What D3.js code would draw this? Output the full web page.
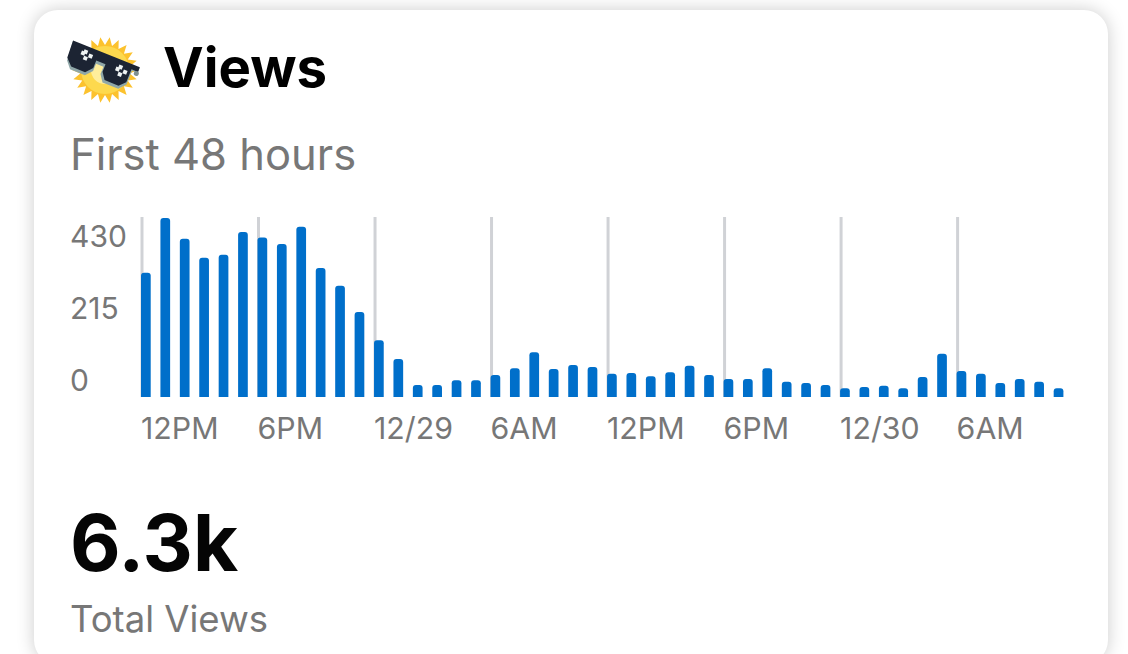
<!DOCTYPE html>
<html><head><meta charset="utf-8">
<script src="https://cdn.jsdelivr.net/npm/d3@7/dist/d3.min.js"></script>
<style>html,body{margin:0;padding:0;background:#fff;overflow:hidden}svg{display:block}text{font-family:Inter,"Noto Sans",sans-serif}</style>
</head><body><svg id="c" width="1128" height="654"></svg>
<script>
const views=[310,447,395,348,355,412,398,382,425,322,278,212,142,95,30,30,42,42,55,72,112,70,80,75,58,60,52,62,78,55,45,45,72,38,35,30,22,25,28,22,50,108,65,58,35,45,38,22];
const yTickLabels=[0,215,430];
const xTickLabels=["12PM","6PM","12/29","6AM","12PM","6PM","12/30","6AM"];
const titleText="Views",subtitleText="First 48 hours",totalText="6.3k",totalLabel="Total Views";

const svg=d3.select("#c");
const defs=svg.append("defs");
const f=defs.append("filter").attr("id","sh").attr("x","-5%").attr("y","-10%").attr("width","110%").attr("height","120%");
f.append("feGaussianBlur").attr("stdDeviation",9);
svg.append("rect").attr("x",34).attr("y",10).attr("width",1074).attr("height",654).attr("rx",24).attr("fill","#000").attr("opacity",0.2).attr("filter","url(#sh)");
svg.append("rect").attr("x",34).attr("y",10).attr("width",1074).attr("height",654).attr("rx",24).attr("fill","#fff");

// emoji
const e=svg.append("g").attr("transform","translate(105,70)");
const pts=[];for(let i=0;i<44;i++){const r=i%2?25:33,a=i/44*2*Math.PI;pts.push([r*Math.cos(a),r*Math.sin(a)]);}
e.append("polygon").attr("points",pts.join(" ")).attr("fill","#fcc22e");
e.append("circle").attr("r",24).attr("fill","#fdd94e");
e.append("circle").attr("r",14).attr("fill","#fff2b0").attr("opacity",.8);
const g=e.append("g").attr("transform","translate(-3,-5) rotate(22) translate(0,-3)");
g.append("path").attr("d","M-36,-8 L36,-8 L36,-3 L30,-3 L30,12 L24,19 L7,19 L2,12 L2,4 L-6,4 L-6,12 L-12,19 L-28,19 L-34,12 Z").attr("fill","#8fa7a8");
g.append("path").attr("d","M-36,-9 L36,-9 L36,-4 L29,-4 L29,10 L23,16 L8,16 L3,9 L3,1 L-7,1 L-7,9 L-13,16 L-28,16 L-35,9 Z").attr("fill","#1c2433");
g.append("circle").attr("cx",35).attr("cy",-2).attr("r",2.5).attr("fill","#7f9091");
[[-24,-3],[-20,1],[-16,-3],[-22,-5],[14,-1],[18,3],[22,-1],[16,-4]].forEach(p=>g.append("rect").attr("x",p[0]).attr("y",p[1]).attr("width",4).attr("height",4).attr("fill","#eef3f3"));

// header
svg.append("text").attr("x",163).attr("y",87).attr("font-size",54.5).attr("font-weight",700).attr("fill","#000").text(titleText);
svg.append("text").attr("x",70).attr("y",170).attr("font-size",43.5).attr("font-weight",400).attr("fill","#777").text(subtitleText);

// chart
const x=d3.scaleBand().domain(d3.range(views.length)).range([141,1063.4]).paddingInner(0.5).paddingOuter(0).align(0);
const y=d3.scaleLinear().domain([0,447]).range([397,218]);
const labelY=d3.scaleLinear().domain([0,430]).range([390,246]);
const gridIdx=xTickLabels.map((d,i)=>i*6);
const gridX=i=>x(i)+1;
svg.append("g").selectAll("line").data(gridIdx).join("line")
 .attr("x1",gridX).attr("x2",gridX).attr("y1",217).attr("y2",397)
 .attr("stroke","#d0d2d6").attr("stroke-width",3);
const bw=x.bandwidth(),rad=3;
svg.append("g").selectAll("path").data(views).join("path").attr("fill","#006fca")
 .attr("d",(d,i)=>{const a=x(i),t=y(d),b=y(0);return `M${a},${b}V${t+rad}Q${a},${t} ${a+rad},${t}H${a+bw-rad}Q${a+bw},${t} ${a+bw},${t+rad}V${b}Z`;});
svg.append("g").selectAll("text").data(yTickLabels).join("text")
 .attr("x",70).attr("y",d=>labelY(d)+0.5).attr("font-size",30).attr("fill","#777").text(d=>d);
svg.append("g").selectAll("text").data(xTickLabels).join("text")
 .attr("x",(d,i)=>gridX(gridIdx[i])-1).attr("y",439).attr("font-size",30.3).attr("fill","#777").text(d=>d);

// total
svg.append("text").attr("x",70).attr("y",571).attr("font-size",78).attr("font-weight",700).attr("fill","#050505").text(totalText);
svg.append("text").attr("x",70).attr("y",632).attr("font-size",36.5).attr("fill","#777").text(totalLabel);
</script></body></html>
